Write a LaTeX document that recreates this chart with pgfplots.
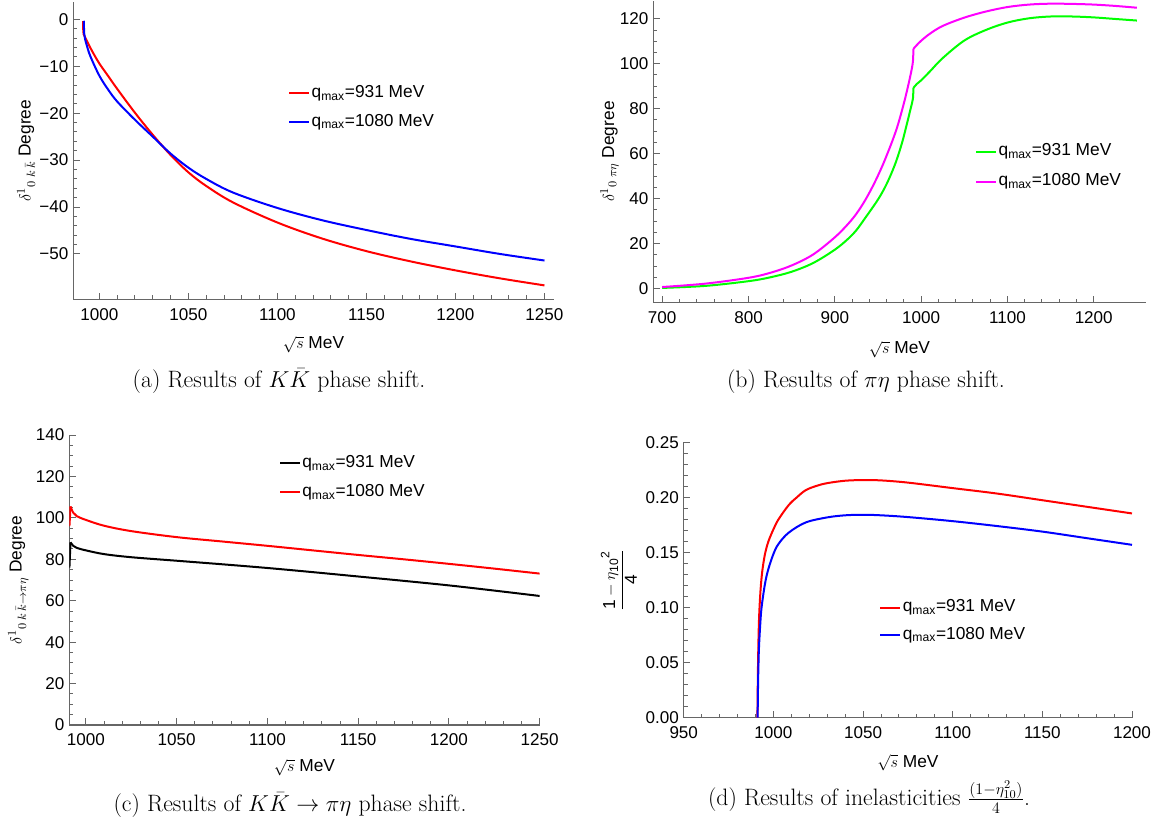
\documentclass[border=0pt]{standalone}
\usepackage{fontspec}
\setsansfont{Liberation Sans}
\usepackage{pgfplots}
\pgfplotsset{compat=1.18}
\definecolor{mmag}{RGB}{255,0,255}
\definecolor{mgreen}{RGB}{0,255,0}
\definecolor{mred}{RGB}{255,0,0}
\definecolor{mblue}{RGB}{0,0,255}

\pgfplotsset{
  mstyle/.style={
    scale only axis,
    axis lines*=left,
    axis line style={black!60, line width=0.8pt},
    tick align=inside,
    tick style={black!60, line width=0.7pt},
    major tick length=5pt,
    minor tick length=3pt,
    tick label style={font=\sffamily\fontsize{12.8}{14}\selectfont, text=black},
    xticklabel style={anchor=base, yshift=-15.6pt},
    yticklabel style={anchor=east, inner sep=0pt, xshift=-3.5pt},
    label style={font=\sffamily\fontsize{13}{15}\selectfont},
    xlabel style={at={(axis description cs:0.5,0)}, anchor=base, yshift=-37pt},
    legend style={draw=none, fill=none, anchor=west, font=\sffamily\fontsize{13}{15}\selectfont,
      inner sep=0pt, nodes={inner sep=1pt, text height=9.4pt, text depth=3pt}},
    legend cell align=left,
    legend image code/.code={\draw[##1, line width=1.5pt] (0pt,0pt) -- (15pt,0pt);},
    every axis plot/.append style={line width=1.5pt, smooth, tension=0.55},
  }
}

\begin{document}
\begin{tikzpicture}
\useasboundingbox (0,0) rectangle (868.5pt,-623.25pt);

% ---------------- (a)
\begin{axis}[mstyle,
  at={(55pt,-224.6pt)}, anchor=south west,
  width=360.3pt, height=223.1pt,
  xmin=985.4, xmax=1255.2, ymin=-59.7, ymax=3.7,
  xtick={1000,1050,1100,1150,1200,1250},
  xticklabels={1000,1050,1100,1150,1200,1250},
  ytick={-50,-40,-30,-20,-10,0},
  yticklabels={−50,−40,−30,−20,−10,0},
  minor x tick num=4, minor y tick num=4,
  xlabel={$\sqrt{s}$ MeV},
  ylabel={$\delta^{1}{}_{0\;k\,\bar{k}}$ Degree},
  ylabel style={at={(axis description cs:-0.0887,0.5)}, anchor=base},
  legend style={at={(axis description cs:0.447,0.645)}, row sep=6.9pt},
]
\addplot[mred] coordinates {(991.0,-3.0)(993,-4.6)(996,-6.8)(1000,-9.4)(1005,-12.1)(1010,-14.8)(1020,-19.9)(1030,-24.6)(1040,-28.9)(1050,-32.6)(1060,-35.5)(1075,-39.0)(1100,-43.3)(1125,-46.7)(1150,-49.4)(1175,-51.6)(1200,-53.5)(1225,-55.2)(1250,-56.7)};
\addlegendentry{q\textsubscript{max}=931 MeV}
\addplot[mred, sharp plot, forget plot] coordinates {(990.9,-0.4)(991.0,-3.0)};
\addplot[mblue] coordinates {(991.3,-0.3)(991.5,-3.0)(992,-4.2)(993,-5.6)(995,-7.9)(1000,-12.0)(1005,-15.0)(1010,-17.5)(1020,-21.4)(1030,-25.0)(1040,-28.6)(1050,-31.6)(1060,-34.0)(1075,-36.9)(1100,-40.2)(1125,-42.8)(1150,-44.9)(1175,-46.8)(1200,-48.4)(1225,-50.0)(1250,-51.4)};
\addlegendentry{q\textsubscript{max}=1080 MeV}
\end{axis}

% ---------------- (b)
\begin{axis}[mstyle,
  at={(490pt,-226.9pt)}, anchor=south west,
  width=369.2pt, height=226.5pt,
  xmin=689.7, xmax=1260.1, ymin=-6.2, ymax=128.1,
  xtick={700,800,900,1000,1100,1200},
  xticklabels={700,800,900,1000,1100,1200},
  ytick={0,20,40,60,80,100,120},
  yticklabels={0,20,40,60,80,100,120},
  minor x tick num=4, minor y tick num=3,
  xlabel={$\sqrt{s}$ MeV},
  xlabel style={yshift=-1.5pt},
  ylabel={$\delta^{1}{}_{0\;\pi\eta}$ Degree},
  ylabel style={at={(axis description cs:-0.0798,0.5)}, anchor=base},
  legend style={at={(axis description cs:0.6535,0.4497)}, row sep=8.1pt},
]
\addplot[mgreen] coordinates {(700,0.3)(750,1.2)(800,3.3)(825,5.0)(850,7.5)(875,11.4)(900,17.3)(915,22)(925,26)(935,31.3)(950,39.6)(960,46.5)(970,55.5)(978,65)(984,74)(988,80.3)(990.5,84.5)(991,89.2)};
\addlegendentry{q\textsubscript{max}=931 MeV}
\addplot[mgreen, forget plot] coordinates {(991,89.2)(995,91)(1000,92.6)(1010,96.5)(1025,102.5)(1050,110.3)(1075,115)(1100,118.3)(1125,120.2)(1150,121)(1175,121)(1200,120.6)(1225,119.9)(1250,119.2)};
\addplot[mmag] coordinates {(700,0.7)(750,2.2)(800,4.8)(825,7)(850,10.3)(875,15.2)(900,22.8)(915,28.6)(925,33.3)(935,39.2)(945,46.3)(955,54.5)(965,64)(972,71.5)(978,79.5)(983,87)(988,95.5)(990.5,101)(991,106.6)};
\addlegendentry{q\textsubscript{max}=1080 MeV}
\addplot[mmag, forget plot] coordinates {(991,106.6)(995,108.3)(1000,110.2)(1010,113.3)(1025,116.8)(1050,120.5)(1075,123.2)(1100,125.2)(1125,126.3)(1150,126.7)(1175,126.6)(1200,126.3)(1225,125.7)(1250,124.9)};
\end{axis}

% ---------------- (c)
\begin{axis}[mstyle,
  at={(52pt,-543.75pt)}, anchor=south west,
  width=352.7pt, height=217.5pt,
  xmin=990.85, xmax=1250, ymin=0, ymax=140,
  xtick={1000,1050,1100,1150,1200,1250},
  xticklabels={1000,1050,1100,1150,1200,1250},
  ytick={0,20,40,60,80,100,120,140},
  yticklabels={0,20,40,60,80,100,120,140},
  minor x tick num=4, minor y tick num=3,
  xlabel={$\sqrt{s}$ MeV},
  xlabel style={yshift=2pt},
  ylabel={$\delta^{1}{}_{0\;k\,\bar{k}\to\pi\eta}$ Degree},
  ylabel style={at={(axis description cs:-0.1016,0.5)}, anchor=base},
  legend style={at={(axis description cs:0.4453,0.852)}, row sep=7.35pt},
]
\addplot[black] coordinates {(991.5,88.2)(993,86.5)(995,85.5)(1000,84.3)(1010,82.5)(1025,81)(1050,79.3)(1075,77.6)(1100,75.8)(1125,73.8)(1150,71.7)(1175,69.6)(1200,67.4)(1225,64.9)(1250,62.3)};
\addlegendentry{q\textsubscript{max}=931 MeV}
\addplot[black, sharp plot, forget plot] coordinates {(990.9,76)(991.5,88.2)};
\addplot[mred] coordinates {(991.5,105.5)(993,102.5)(995,100.8)(1000,99)(1010,96.2)(1025,93.6)(1050,90.7)(1075,88.6)(1100,86.5)(1125,84.3)(1150,82.1)(1175,80)(1200,77.8)(1225,75.5)(1250,73.1)};
\addlegendentry{q\textsubscript{max}=1080 MeV}
\addplot[mred, sharp plot, forget plot] coordinates {(990.9,96)(991.5,105.5)};
\end{axis}

% ---------------- (d)
\begin{axis}[mstyle,
  at={(512.8pt,-538.3pt)}, anchor=south west,
  width=336.2pt, height=206.5pt,
  xmin=950, xmax=1200, ymin=0, ymax=0.25,
  xtick={950,1000,1050,1100,1150,1200},
  xticklabels={950,1000,1050,1100,1150,1200},
  ytick={0,0.05,0.1,0.15,0.2,0.25},
  yticklabels={0.00,0.05,0.10,0.15,0.20,0.25},
  minor x tick num=4, minor y tick num=4,
  xlabel={$\sqrt{s}$ MeV},
  ylabel={$\displaystyle\frac{\mathsf{1}-{\eta_{\mathsf{10}}}^{\mathsf{2}}}{\mathsf{4}}$},
  ylabel style={at={(axis description cs:-0.1446,0.5)}, anchor=center},
  legend style={at={(axis description cs:0.436,0.350)}, row sep=6.1pt},
]
\addplot[mred] coordinates {(991.1,0)(991.4,0.045)(991.9,0.085)(992.6,0.11)(993.4,0.127)(994.3,0.139)(995.5,0.150)(997.2,0.160)(1000,0.171)(1002.8,0.180)(1008.5,0.193)(1013,0.200)(1018,0.2066)(1024,0.2105)(1030,0.213)(1040,0.2152)(1050,0.2158)(1060,0.2155)(1075,0.2135)(1100,0.2085)(1125,0.2035)(1150,0.1975)(1175,0.1915)(1200,0.1855)};
\addlegendentry{q\textsubscript{max}=931 MeV}
\addplot[mblue] coordinates {(991.2,0)(991.5,0.035)(991.9,0.061)(992.6,0.083)(993.4,0.100)(995.3,0.1215)(997.2,0.135)(1000,0.1486)(1002.8,0.1577)(1008.5,0.168)(1018,0.1773)(1030,0.1819)(1040,0.1838)(1050,0.1843)(1060,0.1838)(1075,0.1822)(1100,0.1785)(1125,0.174)(1150,0.169)(1175,0.163)(1200,0.157)};
\addlegendentry{q\textsubscript{max}=1080 MeV}
\end{axis}

% ---------------- captions
\node[anchor=base, font=\fontsize{17.8}{21}\selectfont] at (209.3pt,-290.6pt) {(a) Results of $K\bar{K}$ phase shift.};
\node[anchor=base, font=\fontsize{17.8}{21}\selectfont] at (649.5pt,-290.6pt) {(b) Results of $\pi\eta$ phase shift.};
\node[anchor=base, font=\fontsize{17.8}{21}\selectfont] at (217.5pt,-608.8pt) {(c) Results of $K\bar{K}\to\pi\eta$ phase shift.};
\node[anchor=base, font=\fontsize{17.8}{21}\selectfont] at (651.8pt,-603.8pt) {(d) Results of inelasticities $\frac{(1-\eta_{10}^{2})}{4}$.};
\end{tikzpicture}
\end{document}
